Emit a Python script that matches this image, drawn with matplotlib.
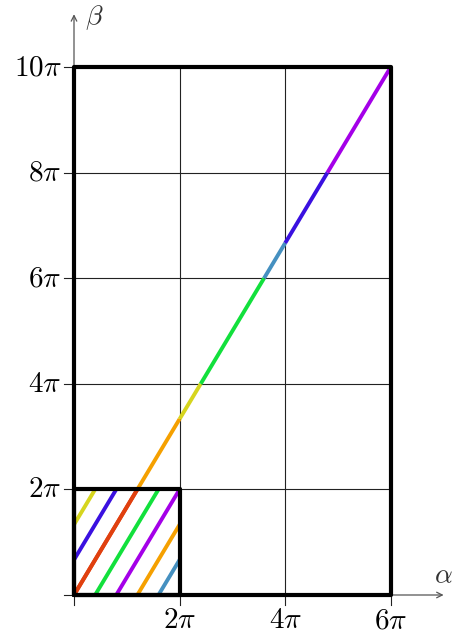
import numpy as np
import matplotlib
matplotlib.use("Agg")
import matplotlib.pyplot as plt

plt.rcParams["mathtext.fontset"] = "cm"
plt.rcParams["font.family"] = ["DejaVu Serif"]

# Everything is expressed in units of pi
period = 2
alpha_max = 6
beta_max = 10
x_ticks = [0, 2, 4, 6]
y_ticks = [0, 2, 4, 6, 8, 10]
x_tick_labels = ["", r"$2\pi$", r"$4\pi$", r"$6\pi$"]
y_tick_labels = ["", r"$2\pi$", r"$4\pi$", r"$6\pi$", r"$8\pi$", r"$10\pi$"]
segment_colors = ["#e0400f", "#f5a000", "#d6d51e", "#12e03c",
                  "#4590c0", "#3a10e0", "#a400e8"]

fig = plt.figure(figsize=(4.64, 6.35), dpi=100)
ax = fig.add_axes([0, 0, 1, 1])
ax.set_axis_off()
px = 52.8  # pixels per unit of pi
ax.set_xlim(-74 / px, (464 - 74) / px)
ax.set_ylim(-40 / px, (635 - 40) / px)

# grid inside the large rectangle
for gx in x_ticks[1:-1]:
    ax.plot([gx, gx], [0, beta_max], color="#222222", lw=0.8, zorder=1)
for gy in y_ticks[1:-1]:
    ax.plot([0, alpha_max], [gy, gy], color="#222222", lw=0.8, zorder=1)

# axes with arrows
axis_col = "#555555"
ax.annotate("", xy=(7.0, 0), xytext=(0, 0),
            arrowprops=dict(arrowstyle="->", color=axis_col, lw=0.9,
                            shrinkA=0, shrinkB=0, mutation_scale=10), zorder=2)
ax.annotate("", xy=(0, 11.0), xytext=(0, 0),
            arrowprops=dict(arrowstyle="->", color=axis_col, lw=0.9,
                            shrinkA=0, shrinkB=0, mutation_scale=10), zorder=2)
ax.text(7.0, 0.12, r"$\alpha$", fontsize=20, ha="center", va="bottom", color="#333333")
ax.text(0.2, 11.2, r"$\beta$", fontsize=20, ha="left", va="top", color="#333333")

# ticks and labels
tl = 10 / px
for t, lab in zip(x_ticks, x_tick_labels):
    ax.plot([t, t], [-tl, 0], color="#222222", lw=0.8, zorder=2)
    if lab:
        ax.text(t, -tl - 0.02, lab, fontsize=21, ha="center", va="top")
for t, lab in zip(y_ticks, y_tick_labels):
    ax.plot([-tl, 0], [t, t], color="#222222", lw=0.8, zorder=2)
    if lab:
        ax.text(-tl - 0.05, t, lab, fontsize=21, ha="right", va="center")

# straight line from origin to (alpha_max, beta_max), split where it crosses the lattice
ts = [0.0, 1.0]
for k in range(1, alpha_max // period + 1):
    ts.append(k * period / alpha_max)
for k in range(1, beta_max // period + 1):
    ts.append(k * period / beta_max)
ts = np.unique(np.round(ts, 9))

for i, (t0, t1) in enumerate(zip(ts[:-1], ts[1:])):
    a = np.array([t0, t1]) * alpha_max
    b = np.array([t0, t1]) * beta_max
    col = segment_colors[i % len(segment_colors)]
    ax.plot(a, b, color=col, lw=2.8, solid_capstyle="butt", zorder=3)
    # the same piece wrapped into the fundamental square
    sa = np.floor(a.mean() / period) * period
    sb = np.floor(b.mean() / period) * period
    ax.plot(a - sa, b - sb, color=col, lw=2.8, solid_capstyle="butt", zorder=3)

# frames
def frame(w, h):
    ax.plot([0, w, w, 0, 0], [0, 0, h, h, 0], color="black", lw=3.0,
            solid_joinstyle="round", solid_capstyle="round", zorder=4)

frame(alpha_max, beta_max)
frame(period, period)

fig.savefig("out.png", dpi=100)
